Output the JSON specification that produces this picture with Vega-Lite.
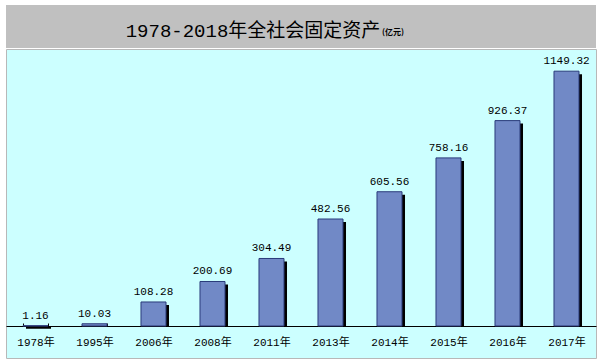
{
  "$schema": "https://vega.github.io/schema/vega-lite/v6.json",
  "padding": 5,
  "background": "white",
  "autosize": {"type": "pad"},
  "spacing": 0,
  "config": {"view": {"stroke": "#B8B8B8", "strokeWidth": 1}, "concat": {"spacing": 0}},
  "vconcat": [
    {
      "width": 590,
      "height": 43,
      "view": {"fill": "#C0C0C0"},
      "data": {"values": [{"main": "1978-2018年全社会固定资产", "unit": "(亿元)"}]},
      "layer": [
        {
          "mark": {"type": "text", "font": "Liberation Mono, Noto Sans CJK SC", "fontSize": 19, "dx": -48, "dy": 4, "baseline": "middle", "align": "center", "color": "black"},
          "encoding": {"text": {"field": "main", "type": "nominal"}}
        },
        {
          "mark": {"type": "text", "font": "Noto Sans CJK SC", "fontSize": 8, "fontWeight": "bold", "dx": 81, "dy": 6, "baseline": "middle", "align": "left", "color": "black"},
          "encoding": {"text": {"field": "unit", "type": "nominal"}}
        }
      ]
    },
    {
      "width": 590,
      "height": 309,
      "view": {"fill": "#CCFFFF"},
      "data": {"values": [
        {"year": "1978年", "value": 1.16},
        {"year": "1995年", "value": 10.03},
        {"year": "2006年", "value": 108.28},
        {"year": "2008年", "value": 200.69},
        {"year": "2011年", "value": 304.49},
        {"year": "2013年", "value": 482.56},
        {"year": "2014年", "value": 605.56},
        {"year": "2015年", "value": 758.16},
        {"year": "2016年", "value": 926.37},
        {"year": "2017年", "value": 1149.32}
      ]},
      "encoding": {
        "x": {
          "field": "year", "type": "nominal", "sort": null,
          "scale": {"paddingInner": 0.576, "paddingOuter": 0.288},
          "axis": {
            "title": null, "offset": -32, "labelAngle": 0,
            "domainColor": "black", "domainWidth": 1,
            "tickColor": "black", "tickBand": "extent", "tickSize": -3,
            "labelFont": "Liberation Mono, Noto Sans CJK SC", "labelFontSize": 11,
            "labelColor": "black", "labelPadding": 13
          }
        },
        "y": {
          "field": "value", "type": "quantitative",
          "scale": {"domain": [-144.4, 1249.4], "nice": false},
          "axis": null
        }
      },
      "layer": [
        {
          "mark": {"type": "bar", "color": "black", "xOffset": 3, "x2Offset": 3, "yOffset": 3},
          "encoding": {"y2": {"datum": 0}}
        },
        {
          "mark": {"type": "bar", "fill": "#7189C6", "stroke": "#2A3A7A", "strokeWidth": 1},
          "encoding": {"y2": {"datum": 0}}
        },
        {
          "mark": {"type": "text", "font": "Liberation Mono", "fontSize": 11, "baseline": "bottom", "dy": -5, "color": "black"},
          "encoding": {"text": {"field": "value", "type": "quantitative", "format": ".2f"}}
        }
      ]
    }
  ]
}
